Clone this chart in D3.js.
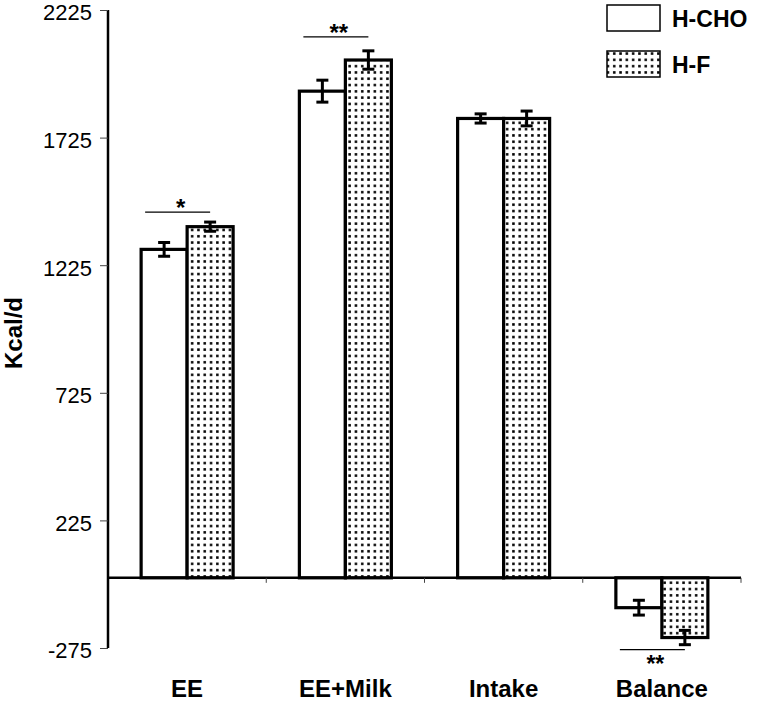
<!DOCTYPE html>
<html><head><meta charset="utf-8">
<script src="https://cdn.jsdelivr.net/npm/d3@7"></script>
<style>body{margin:0;background:#fff}svg{display:block}text{font-family:Arial,"Liberation Sans",sans-serif}</style>
</head><body><svg id="c" width="758" height="702"></svg>
<script>
const categories = ["EE", "EE+Milk", "Intake", "Balance"];
const seriesNames = ["H-CHO", "H-F"];
const hcho = [1287, 1907, 1800, -117];
const hf = [1376, 2029, 1800, -234];
const hchoErr = [27, 43, 18, 29];
const hfErr = [18, 36, 29, 28];
const yTicks = [-275, 225, 725, 1225, 1725, 2225];
const sigLabels = ["*", "**", "", "**"];

const svg = d3.select("#c");
const defs = svg.append("defs");
const P = 6.3;
const pat = defs.append("pattern").attr("id","dots").attr("patternUnits","userSpaceOnUse")
  .attr("width",P).attr("height",P).attr("x",0).attr("y",0);
pat.append("rect").attr("width",P).attr("height",P).attr("fill","#fff");
pat.append("rect").attr("x",1.9).attr("y",1.9).attr("width",2.5).attr("height",2.5).attr("fill","#000");

const x0 = 108, x1 = 741;
const y = d3.scaleLinear().domain([-275, 2225]).range([648, 10]);
const x = d3.scaleBand().domain(categories).range([x0, x1]);
const xs = d3.scaleBand().domain(seriesNames).range([0, 92]);
const groupOff = (x.bandwidth() - 92) / 2;

// y axis
const ya = svg.append("g").attr("transform", `translate(${x0},0)`)
  .call(d3.axisLeft(y).tickValues(yTicks).tickSize(8).tickPadding(8).tickFormat(d => String(d)));
ya.attr("font-family", null).attr("font-size", null);
ya.select(".domain").attr("stroke","#000").attr("stroke-width",2.5).attr("d", `M0,${y(-275)}V${y(2225)}`);
ya.selectAll(".tick line").attr("stroke","#444").attr("stroke-width",1);
ya.selectAll(".tick text").attr("font-size",22).attr("fill","#000").attr("dy","0.45em");

svg.append("text").attr("transform", `translate(22,333) rotate(-90)`).attr("text-anchor","middle")
  .attr("font-size",24).attr("font-weight","bold").text("Kcal/d");

// bars
const data = categories.map((c,i)=>[
  {c, s:"H-CHO", v:hcho[i], e:hchoErr[i]},
  {c, s:"H-F", v:hf[i], e:hfErr[i]}
]).flat();

const bx = d => x(d.c) + groupOff + xs(d.s);
const bc = (c, s) => x(c) + groupOff + xs(s) + xs.bandwidth()/2;
svg.selectAll("rect.bar").data(data).enter().append("rect").attr("class","bar")
  .attr("x", bx).attr("width", xs.bandwidth())
  .attr("y", d => y(Math.max(0,d.v))).attr("height", d => Math.abs(y(d.v)-y(0)))
  .attr("fill", d => d.s==="H-F" ? "url(#dots)" : "#fff")
  .attr("stroke","#000").attr("stroke-width",3.2);

// x axis
const xa = svg.append("g").attr("transform", `translate(0,${y(0)})`);
xa.append("line").attr("x1",x0).attr("x2",x1).attr("stroke","#000").attr("stroke-width",2.5);
const bounds = categories.map(c=>x(c)).concat([x1]);
xa.selectAll("line.t").data(bounds.slice(1)).enter().append("line").attr("class","t")
  .attr("x1",d=>d).attr("x2",d=>d).attr("y1",0).attr("y2",5).attr("stroke","#444").attr("stroke-width",1);
svg.selectAll("text.cat").data(categories).enter().append("text").attr("class","cat")
  .attr("x", d => x(d)+x.bandwidth()/2).attr("y", 697).attr("text-anchor","middle")
  .attr("font-size",24).attr("font-weight","bold").text(d=>d);

// error bars
const eb = svg.selectAll("g.eb").data(data).enter().append("g").attr("class","eb")
  .attr("transform", d => `translate(${bx(d)+xs.bandwidth()/2},0)`);
eb.append("line").attr("y1", d=>y(d.v+d.e)).attr("y2", d=>y(d.v-d.e)).attr("stroke","#000").attr("stroke-width",3);
eb.append("line").attr("x1",-6).attr("x2",6).attr("y1", d=>y(d.v+d.e)).attr("y2", d=>y(d.v+d.e)).attr("stroke","#000").attr("stroke-width",3);
eb.append("line").attr("x1",-6).attr("x2",6).attr("y1", d=>y(d.v-d.e)).attr("y2", d=>y(d.v-d.e)).attr("stroke","#000").attr("stroke-width",3);

// significance
const sigGap = [10, 14, 0, 5];
categories.forEach((c,i)=>{
  if(!sigLabels[i]) return;
  const a = bc(c,"H-CHO") - 19, b = bc(c,"H-F");
  const mid = (a+b)/2 + 3;
  if (hf[i] >= 0) {
    const ly = y(Math.max(hcho[i]+hchoErr[i], hf[i]+hfErr[i])) - sigGap[i];
    svg.append("line").attr("x1",a).attr("x2",b).attr("y1",ly).attr("y2",ly).attr("stroke","#000").attr("stroke-width",1.3);
    svg.append("text").attr("x",mid).attr("y",ly+4).attr("text-anchor","middle").attr("font-size",24).attr("font-weight","bold").text(sigLabels[i]);
  } else {
    const ly = y(Math.min(hcho[i]-hchoErr[i], hf[i]-hfErr[i])) + sigGap[i];
    svg.append("line").attr("x1",a).attr("x2",b).attr("y1",ly).attr("y2",ly).attr("stroke","#000").attr("stroke-width",1.3);
    svg.append("text").attr("x",mid).attr("y",ly+22).attr("text-anchor","middle").attr("font-size",23).attr("font-weight","bold").text(sigLabels[i]);
  }
});

// legend
const lg = svg.append("g");
seriesNames.forEach((s,i)=>{
  const ly = 5 + i*46;
  lg.append("rect").attr("x",607).attr("y",ly).attr("width",53).attr("height",26)
    .attr("fill", i ? "url(#dots)" : "#fff").attr("stroke","#000").attr("stroke-width",1.5);
  lg.append("text").attr("x",672).attr("y",ly+22).attr("font-size",23).attr("font-weight","bold").text(s);
});
</script></body></html>
